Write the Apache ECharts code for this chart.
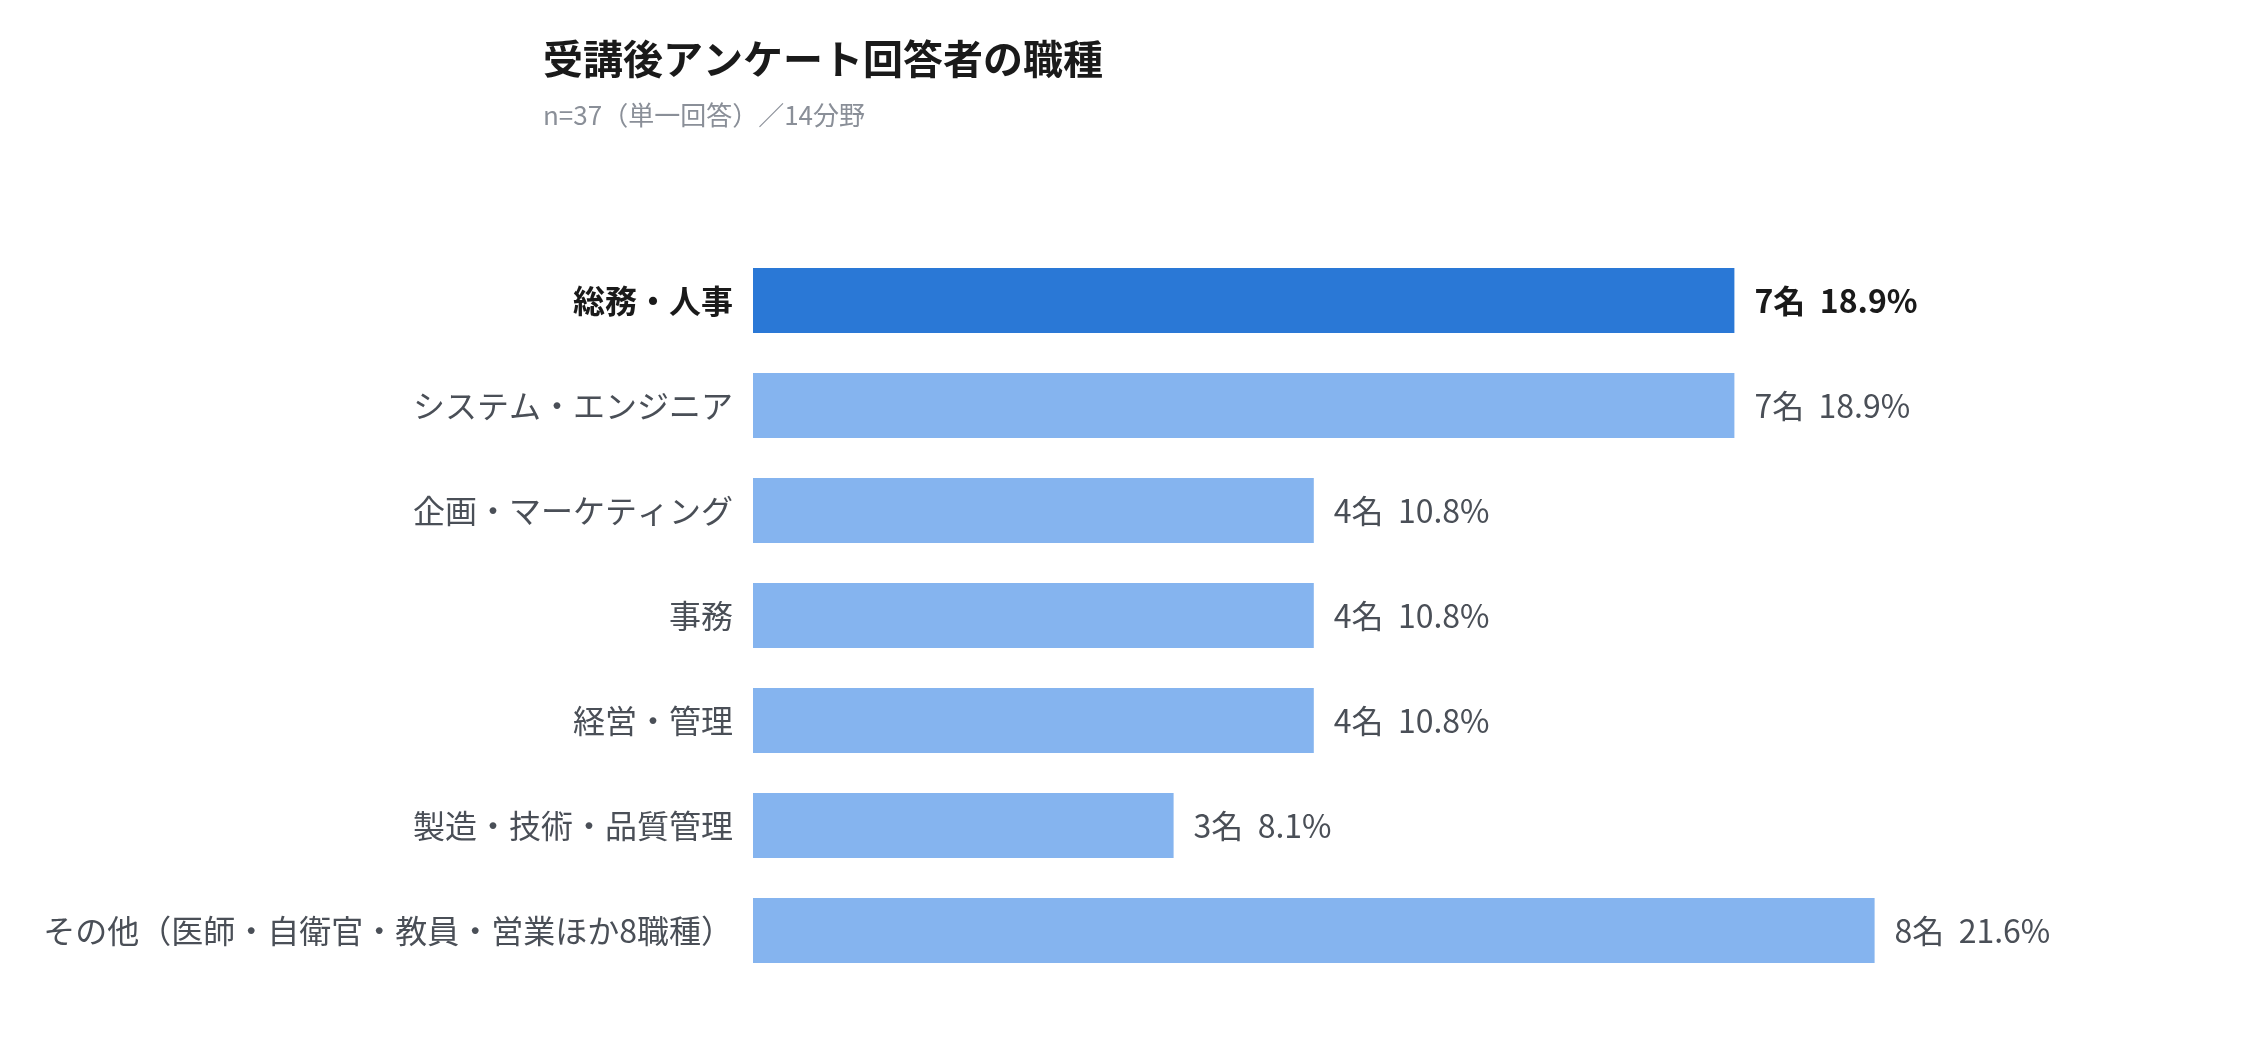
<!DOCTYPE html>
<html>
<head>
<meta charset="utf-8">
<script src="https://cdn.jsdelivr.net/npm/echarts@6/dist/echarts.min.js"></script>
<style>
  html, body { margin: 0; padding: 0; background: #fff; }
  #chart { width: 2254px; height: 1042px; }
</style>
</head>
<body>
<div id="chart"></div>
<script>
// 職種カテゴリ（上から順）
var categories = [
    '総務・人事',
    'システム・エンジニア',
    '企画・マーケティング',
    '事務',
    '経営・管理',
    '製造・技術・品質管理',
    'その他（医師・自衛官・教員・営業ほか8職種）'
];
// 回答者数（名）
var counts = [7, 7, 4, 4, 4, 3, 8];
// 構成比（%）
var percents = ['18.9', '18.9', '10.8', '10.8', '10.8', '8.1', '21.6'];
// 強調表示するカテゴリ
var highlightIndex = 0;

var FONT = '"Noto Sans CJK JP", "Noto Sans", sans-serif';

var option = {
    backgroundColor: '#ffffff',
    textStyle: { fontFamily: FONT },
    title: {
        text: '受講後アンケート回答者の職種',
        subtext: 'n=37（単一回答）／14分野',
        left: 538,
        top: 34,
        itemGap: 23,
        textStyle: { fontSize: 40, fontWeight: 'bold', color: '#1a1a1a', fontFamily: FONT },
        subtextStyle: { fontSize: 26, color: '#8a8f98', fontFamily: FONT }
    },
    grid: {
        left: 753,
        right: 99,
        top: 248,
        bottom: 59,
        containLabel: false
    },
    xAxis: {
        type: 'value',
        min: 0,
        max: 10,
        show: false
    },
    yAxis: {
        type: 'category',
        data: categories,
        inverse: true,
        axisLine: { show: false },
        axisTick: { show: false },
        axisLabel: {
            margin: 20,
            fontSize: 32,
            color: '#4a4f57',
            fontFamily: FONT,
            formatter: function(value, idx) {
                return idx === highlightIndex ? '{hl|' + value + '}' : value;
            },
            rich: {
                hl: { fontSize: 32, fontWeight: 'bold', color: '#1a1a1a', fontFamily: FONT }
            }
        }
    },
    series: [{
        type: 'bar',
        barWidth: 65,
        data: counts.map(function(v, i) {
            return {
                value: v,
                itemStyle: { color: i === highlightIndex ? '#2a78d6' : '#85b4ef' },
                label: i === highlightIndex
                    ? { fontWeight: 'bold', color: '#1a1a1a' }
                    : {}
            };
        }),
        label: {
            show: true,
            position: 'right',
            distance: 20,
            fontSize: 32,
            color: '#4a4f57',
            fontFamily: FONT,
            formatter: function(p) {
                return counts[p.dataIndex] + '名  ' + percents[p.dataIndex] + '%';
            }
        },
        animation: false
    }]
};

var myChart = echarts.init(document.getElementById('chart'));
myChart.setOption(option);
</script>
</body>
</html>
